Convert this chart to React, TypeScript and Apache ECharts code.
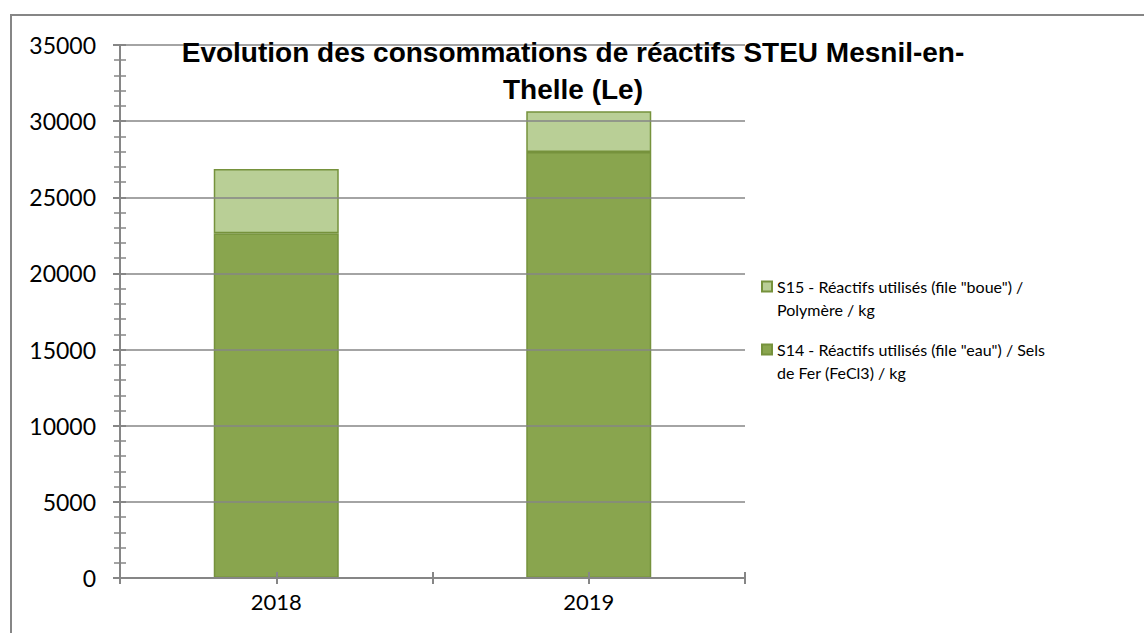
import React, { useEffect, useRef } from "react";
import * as echarts from "echarts";

const categories = ["2018", "2019"];
const s14Values = [22640, 27970];
const s15Values = [4220, 2680];
const s14Name = 'S14 - Réactifs utilisés (file "eau") / Sels de Fer (FeCl3) / kg';
const s15Name = 'S15 - Réactifs utilisés (file "boue") / Polymère / kg';
const s14Label = ' \nS14 - Réactifs utilisés (file "eau") / Sels\nde Fer (FeCl3) / kg';
const s15Label = ' \nS15 - Réactifs utilisés (file "boue") /\nPolymère / kg';
const titleText = "Evolution des consommations de réactifs STEU Mesnil-en-\nThelle (Le)";
const yMin = 0;
const yMax = 35000;
const yInterval = 5000;

const GRAY = "#868686";
const FONT = "Lato";

export default function App() {
  const ref = useRef<HTMLDivElement>(null);
  useEffect(() => {
    if (!ref.current) return;
    const chart = echarts.init(ref.current, undefined, { renderer: "svg" });
    const labelMap: Record<string, string> = { [s14Name]: s14Label, [s15Name]: s15Label };
    const legendBase = {
      orient: "vertical",
      left: 761,
      padding: 0,
      itemWidth: 10,
      itemHeight: 10,
      icon: "rect",
      formatter: (n: string) => labelMap[n] || n,
      textStyle: {
        fontFamily: FONT,
        fontSize: 16,
        lineHeight: 23,
        color: "#000",
      },
    };
    const tickAxisX = (inside: boolean) => ({
      type: "value",
      min: 0,
      max: 2,
      interval: 0.5,
      position: "bottom",
      axisLine: { show: false },
      axisLabel: { show: false },
      splitLine: { show: false },
      axisTick: { show: true, inside, length: 6, lineStyle: { color: GRAY, width: 2 } },
      z: 5,
    });
    chart.setOption({
      animation: false,
      backgroundColor: "#fff",
      title: {
        text: titleText,
        left: 573,
        top: 34,
        padding: 0,
        textAlign: "center",
        textStyle: {
          fontFamily: "Liberation Sans",
          fontWeight: "bold",
          fontSize: 28,
          lineHeight: 37,
          color: "#000",
        },
      },
      legend: [
        { ...legendBase, data: [s15Name], top: 252 },
        { ...legendBase, data: [s14Name], top: 315 },
      ],
      grid: { left: 120, right: 399, top: 45, bottom: 55, containLabel: false },
      xAxis: [
        {
          type: "category",
          data: categories,
          position: "bottom",
          axisLine: { show: true, lineStyle: { color: GRAY, width: 2 } },
          axisTick: { show: false },
          axisLabel: { fontFamily: FONT, fontSize: 22, color: "#000", margin: 12 },
          splitLine: { show: false },
          z: 5,
        },
        tickAxisX(false),
        tickAxisX(true),
      ],
      yAxis: [
        {
          type: "value",
          min: yMin,
          max: yMax,
          interval: yInterval,
          position: "left",
          axisLine: { show: true, lineStyle: { color: GRAY, width: 2 } },
          axisTick: { show: true, length: 7, lineStyle: { color: GRAY, width: 2 } },
          minorTick: { show: true, splitNumber: 5, length: 6, lineStyle: { color: GRAY, width: 1.5 } },
          axisLabel: {
            fontFamily: FONT,
            fontSize: 23,
            color: "#000",
            margin: 24,
            formatter: (v: number) => String(v),
          },
          splitLine: { show: true, lineStyle: { color: GRAY, width: 1.5 } },
          z: 5,
        },
        {
          type: "value",
          min: yMin,
          max: yMax,
          interval: yInterval,
          position: "left",
          axisLine: { show: false },
          axisTick: { show: true, inside: true, length: 6, lineStyle: { color: GRAY, width: 2 } },
          minorTick: { show: true, splitNumber: 5, length: 6, lineStyle: { color: GRAY, width: 1.5 } },
          axisLabel: { show: false },
          splitLine: { show: false },
          z: 5,
        },
      ],
      series: [
        {
          name: s14Name,
          type: "bar",
          stack: "total",
          data: s14Values,
          barWidth: "40%",
          xAxisIndex: 0,
          yAxisIndex: 0,
          itemStyle: { color: "#89a54e", borderColor: "#76923c", borderWidth: 1.5 },
        },
        {
          name: s15Name,
          type: "bar",
          stack: "total",
          data: s15Values,
          barWidth: "40%",
          xAxisIndex: 0,
          yAxisIndex: 0,
          itemStyle: { color: "#b9cf96", borderColor: "#76923c", borderWidth: 1.5 },
        },
      ],
      graphic: [
        {
          type: "rect",
          shape: { x: 11, y: 15, width: 1400, height: 900 },
          style: { fill: "none", stroke: GRAY, lineWidth: 2 },
          silent: true,
          z: -1,
        },
      ],
    });
    return () => chart.dispose();
  }, []);
  return (
    <div
      ref={ref}
      style={{ position: "fixed", left: 0, top: 0, width: 1144, height: 633, background: "#fff" }}
    />
  );
}
